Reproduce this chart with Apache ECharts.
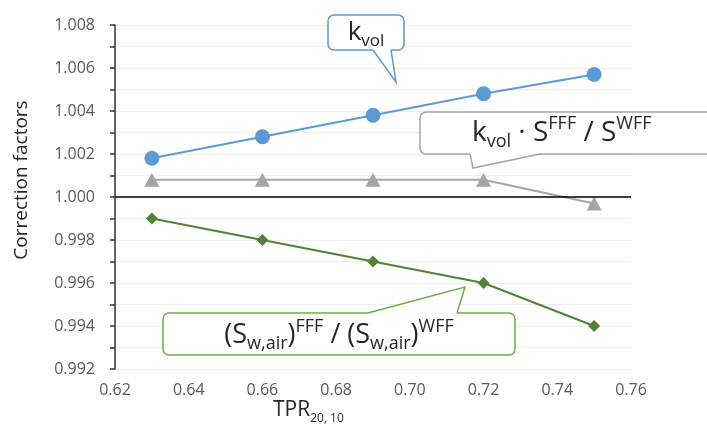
<!DOCTYPE html>
<html>
<head>
<meta charset="utf-8">
<script src="https://cdn.jsdelivr.net/npm/echarts@6/dist/echarts.min.js"></script>
<style>
html, body { margin: 0; padding: 0; background: #fff; }
#chart { width: 707px; height: 427px; }
</style>
</head>
<body>
<div id="chart"></div>
<script>
// TPR20,10 values (x axis)
var tpr = [0.63, 0.66, 0.69, 0.72, 0.75];
// k_vol
var kvol = [1.0018, 1.0028, 1.0038, 1.0048, 1.0057];
// k_vol * S_FFF / S_WFF
var kvolRatio = [1.0008, 1.0008, 1.0008, 1.0008, 0.9997];
// (S_w,air)FFF / (S_w,air)WFF
var swairRatio = [0.999, 0.998, 0.997, 0.996, 0.994];

var FONT = '"Open Sans", "Noto Sans", sans-serif';
var TXT = '#262626';

function pairs(xs, ys) {
    var out = [];
    for (var i = 0; i < xs.length; i++) {
        out.push([xs[i], ys[i]]);
    }
    return out;
}

// rich styles for sub/superscript callout text
function richSet(big, small) {
    return {
        n: { fontSize: big, fontFamily: FONT, fill: TXT, lineHeight: big + 8, verticalAlign: 'middle' },
        sub: { fontSize: small, fontFamily: FONT, fill: TXT, lineHeight: small, verticalAlign: 'bottom' },
        sup: { fontSize: small, fontFamily: FONT, fill: TXT, lineHeight: small, verticalAlign: 'top' }
    };
}

// callout = rounded box + tail (white patch hides box border under the tail base)
function callout(box, patch, tail, color) {
    return [
        {
            type: 'rect', z: 100,
            shape: { x: box[0], y: box[1], width: box[2], height: box[3], r: 6 },
            style: { fill: '#fff', stroke: color, lineWidth: 1.5 }
        },
        {
            type: 'polygon', z: 101,
            shape: { points: patch },
            style: { fill: '#fff', stroke: null }
        },
        {
            type: 'polyline', z: 102,
            shape: { points: tail },
            style: { fill: null, stroke: color, lineWidth: 1.5 }
        }
    ];
}

var chart = echarts.init(document.getElementById('chart'));

var graphics = [
    // axis titles
    {
        type: 'text',
        z: 100,
        x: 22,
        y: 180,
        rotation: Math.PI / 2,
        style: {
            text: 'Correction factors',
            font: '19px ' + FONT,
            fill: TXT,
            align: 'center',
            verticalAlign: 'middle'
        }
    },
    {
        type: 'text',
        z: 100,
        x: 273,
        y: 410,
        style: {
            text: '{n|TPR}{sub|20, 10}',
            rich: richSet(21, 12),
            align: 'left',
            verticalAlign: 'middle'
        }
    }
];

// blue callout
graphics = graphics.concat(callout(
    [328, 15, 76, 35],
    [[372, 46], [373, 51], [396, 82], [391, 51], [392, 46]],
    [[373, 50], [396, 82], [391, 50]],
    '#5b9bd5'
));
graphics.push({
    type: 'text', z: 110, x: 366, y: 33,
    style: { text: '{n|k}{sub|vol}', rich: richSet(26, 17), align: 'center', verticalAlign: 'middle' }
});

// gray callout
graphics = graphics.concat(callout(
    [420, 112, 310, 42],
    [[470, 150], [470, 155], [473, 168], [540, 155], [540, 150]],
    [[470, 154], [473, 168], [540, 154]],
    '#a5a5a5'
));
graphics.push({
    type: 'text', z: 110, x: 472, y: 133,
    style: {
        text: '{n|k}{sub|vol}{n| · S}{sup|FFF}{n| / S}{sup|WFF}',
        rich: richSet(28, 18), align: 'left', verticalAlign: 'middle'
    }
});

// green callout
graphics = graphics.concat(callout(
    [163, 313, 352, 42],
    [[368, 317], [368, 312], [465, 287], [457, 312], [457, 317]],
    [[368, 313], [465, 287], [457, 313]],
    '#70ad47'
));
graphics.push({
    type: 'text', z: 110, x: 339, y: 335,
    style: {
        text: '{n|(S}{sub|w,air}{n|)}{sup|FFF}{n| / (S}{sub|w,air}{n|)}{sup|WFF}',
        rich: richSet(27, 18), align: 'center', verticalAlign: 'middle'
    }
});

var option = {
    animation: false,
    backgroundColor: '#fff',
    grid: { left: 115, right: 76, top: 25, bottom: 58 },
    xAxis: {
        type: 'value',
        min: 0.62,
        max: 0.76,
        interval: 0.02,
        axisLine: { show: false },
        axisTick: { show: false },
        splitLine: { show: false },
        axisLabel: {
            margin: 13,
            fontSize: 16,
            fontFamily: FONT,
            color: '#595959',
            formatter: function (v) { return v.toFixed(2); }
        }
    },
    yAxis: {
        type: 'value',
        min: 0.992,
        max: 1.008,
        interval: 0.001,
        axisLine: { show: true, lineStyle: { color: '#333333', width: 1.5 } },
        axisTick: { show: true, length: 5, lineStyle: { color: '#333333', width: 1.5 } },
        splitLine: { show: true, lineStyle: { color: '#eeeeee', width: 1 } },
        axisLabel: {
            margin: 20,
            fontSize: 16,
            fontFamily: FONT,
            color: '#595959',
            formatter: function (v) {
                return Math.round(v * 1000) % 2 === 0 ? v.toFixed(3) : '';
            }
        }
    },
    series: [
        {
            name: 'kvol',
            type: 'line',
            data: pairs(tpr, kvol),
            symbol: 'circle',
            symbolSize: 15,
            lineStyle: { color: '#5b9bd5', width: 2 },
            itemStyle: { color: '#5b9bd5' },
            z: 3
        },
        {
            name: 'kvolRatio',
            type: 'line',
            data: pairs(tpr, kvolRatio),
            symbol: 'triangle',
            symbolSize: [15, 14],
            lineStyle: { color: '#a5a5a5', width: 2 },
            itemStyle: { color: '#a5a5a5' },
            z: 3,
            markLine: {
                silent: true,
                symbol: 'none',
                label: { show: false },
                lineStyle: { color: '#000', width: 1.5, type: 'solid' },
                data: [{ yAxis: 1.0 }]
            }
        },
        {
            name: 'swair',
            type: 'line',
            data: pairs(tpr, swairRatio),
            symbol: 'diamond',
            symbolSize: [12, 12],
            lineStyle: { color: '#548235', width: 2 },
            itemStyle: { color: '#548235' },
            z: 3
        }
    ],
    graphic: graphics
};

chart.setOption(option);
</script>
</body>
</html>
